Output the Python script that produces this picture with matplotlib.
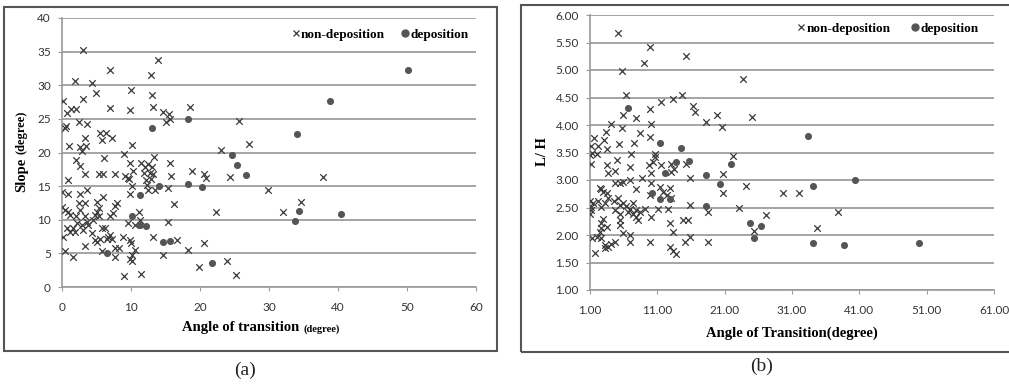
import matplotlib
matplotlib.use("Agg")
import matplotlib.pyplot as plt
from matplotlib.patches import Rectangle
from matplotlib.lines import Line2D
from matplotlib.ticker import FormatStrFormatter

# (a) angle of transition vs slope
a_nondep_x = [0.1, 0.7, 1.9, 1.3, 2.0, 0.5, 0.6, 1.0, 3.1, 3.1, 2.5, 3.6, 4.4, 4.9, 7.0, 7.0,
              2.6, 2.9, 3.3, 3.5, 2.1, 2.6, 3.3, 5.5, 5.8, 6.4, 7.2, 6.1, 5.4, 5.9, 7.7, 10.0,
              9.8, 10.1, 9.0, 9.9, 9.1, 9.7, 10.3, 12.9, 13.9, 13.1, 13.2, 14.7, 15.5, 15.1, 15.7,
              18.5, 13.3, 11.5, 12.0, 12.5, 13.0, 11.9, 12.7, 13.2, 12.2, 12.9, 15.7, 15.8, 15.4,
              18.9, 20.6, 20.9, 23.1, 24.3, 25.6, 27.1, 37.8, 29.8, 34.6, 32.1, 25.2,
              0.0, 0.9, 0.9, 0.0, 0.4, 0.9, 1.2, 0.1, 0.7, 1.2, 1.6, 0.4, 1.6, 2.6, 2.4, 3.3,
              2.6, 2.1, 3.3, 3.6, 2.2, 2.9, 3.6, 3.8, 3.1, 1.9, 3.3, 5.0, 5.3, 5.0, 4.8, 5.3,
              4.5, 4.3, 4.8, 5.0, 5.5, 6.0, 5.8, 6.2, 5.8, 6.5, 6.7, 7.0, 7.4, 7.7, 7.9, 7.2,
              7.0, 7.7, 7.7, 8.2, 8.9, 9.0, 9.6, 9.8, 10.0, 9.9, 10.2, 10.6, 10.1, 10.6, 11.1,
              11.3, 11.4, 9.9, 10.1, 9.6, 12.3, 12.5, 13.5, 13.2, 14.6, 15.3, 16.2, 16.6, 18.3,
              19.8, 20.6, 22.3, 23.9]
a_nondep_y = [27.6, 25.9, 30.6, 26.5, 26.5, 23.6, 23.9, 21.0, 35.2, 28.0, 24.5, 24.3, 30.3, 28.8, 32.2, 26.6,
              20.8, 20.2, 22.2, 21.0, 18.9, 18.0, 16.8, 22.9, 21.8, 22.9, 22.1, 19.2, 16.8, 16.8, 16.8, 29.3,
              26.3, 21.1, 19.8, 18.5, 16.5, 16.1, 17.2, 31.5, 33.7, 28.5, 26.8, 26.0, 25.7, 24.5, 25.0,
              26.8, 19.3, 18.4, 17.9, 18.3, 17.9, 16.9, 16.9, 16.8, 15.9, 16.0, 18.5, 16.5, 14.7,
              17.2, 16.8, 16.2, 20.4, 16.4, 24.7, 21.3, 16.4, 14.4, 12.7, 11.1, 1.8,
              14.2, 15.9, 13.9, 11.9, 11.5, 11.2, 10.7, 7.5, 8.7, 8.2, 8.7, 5.3, 4.4, 13.9, 12.5, 12.5,
              11.5, 10.5, 10.5, 14.4, 9.5, 9.2, 9.7, 9.2, 8.5, 8.2, 6.1, 12.7, 11.7, 11.2, 10.7, 10.6,
              10.0, 8.0, 7.0, 6.7, 7.2, 13.4, 8.7, 8.7, 5.3, 7.2, 7.5, 10.5, 11.0, 12.0, 12.5, 7.2,
              7.7, 5.8, 4.5, 5.8, 7.5, 1.6, 9.5, 7.0, 6.5, 4.1, 4.8, 5.5, 3.8, 9.2, 11.2,
              10.0, 2.0, 13.9, 15.0, 16.2, 15.2, 14.4, 14.4, 7.5, 4.8, 9.7, 12.3, 7.0, 5.5,
              2.9, 6.6, 11.2, 3.8]
a_dep_x = [13.0, 18.3, 24.7, 25.4, 26.6, 50.1, 38.8, 34.1, 34.3, 33.7, 40.4, 11.3, 14.0, 18.2,
           20.3, 6.5, 10.2, 11.3, 12.2, 14.6, 15.7, 21.8]
a_dep_y = [23.6, 25.0, 19.6, 18.1, 16.7, 32.2, 27.6, 22.7, 11.3, 9.8, 10.8, 13.7, 15.0, 15.3,
           14.8, 5.1, 10.6, 9.2, 9.0, 6.7, 6.9, 3.6]

# (b) angle of transition vs L/H
b_nondep_x = [5.1, 9.9, 5.7, 9.0, 15.3, 23.7, 25.0, 6.4, 14.6, 13.3, 11.5, 9.9, 16.3, 16.6, 19.8,
              18.3, 20.6, 5.9, 7.9, 4.1, 5.7, 10.1, 3.4, 8.4, 9.9, 1.6, 3.1, 1.1, 2.2, 5.3, 7.6,
              3.5, 1.3, 2.0, 7.1, 10.7, 1.1, 3.5, 5.0, 3.7, 4.7, 6.9, 9.7, 10.4, 11.6, 13.0, 10.1,
              13.1, 15.3, 15.8, 8.7, 5.4, 10.1, 20.8, 22.2, 24.2, 20.8, 6.9, 7.9, 2.7, 3.5, 4.7,
              29.6, 32.1, 23.2, 27.2, 37.8, 25.4, 34.7, 1.0, 10.6, 13.5, 5.9, 11.9, 12.4, 12.9,
              13.1, 9.9, 11.4, 2.5, 3.0,
              1.0, 1.1, 1.5, 2.2, 1.0, 2.7, 3.2, 3.7, 4.5, 5.2, 5.4, 5.9, 6.4, 7.4, 6.9, 7.9,
              8.4, 5.4, 7.4, 7.9, 8.2, 5.4, 3.0, 2.7, 10.1, 11.1, 12.6, 15.8, 18.5, 12.9, 13.3,
              14.8, 15.5, 15.1, 15.8, 12.9, 13.3, 13.8, 18.5, 9.9, 5.4, 5.9, 6.9, 6.9, 1.3, 2.0,
              2.5, 2.7, 2.7, 1.7, 3.2, 3.2, 3.7, 4.1, 4.7, 4.7, 9.1, 6.7, 3.5, 1.2]
b_nondep_y = [5.68, 5.42, 4.98, 5.13, 5.25, 4.84, 4.15, 4.55, 4.55, 4.47, 4.42, 4.29, 4.35, 4.24, 4.18,
              4.06, 3.96, 4.19, 4.12, 4.02, 3.94, 4.02, 3.88, 3.86, 3.79, 3.76, 3.73, 3.61, 3.61, 3.65, 3.68,
              3.56, 3.49, 3.47, 3.47, 3.47, 3.30, 3.27, 3.36, 3.12, 3.17, 3.24, 3.27, 3.33, 3.27, 3.30, 3.12,
              3.15, 3.30, 3.04, 3.04, 2.95, 2.95, 3.11, 3.44, 2.89, 2.76, 3.00, 2.83, 2.83, 2.76, 2.95,
              2.77, 2.77, 2.50, 2.36, 2.42, 2.07, 2.12, 3.45, 3.42, 3.20, 2.97, 2.79, 2.73, 2.85,
              2.67, 2.73, 2.88, 2.85, 2.79,
              2.61, 2.51, 2.58, 2.61, 2.39, 2.51, 2.58, 2.67, 2.61, 2.67, 2.55, 2.58, 2.53, 2.58, 2.48, 2.45,
              2.42, 2.39, 2.39, 2.33, 2.27, 2.27, 2.30, 2.21, 2.33, 2.48, 2.47, 2.55, 2.42, 2.21, 2.06,
              2.27, 2.28, 1.88, 1.97, 1.79, 1.71, 1.65, 1.88, 1.88, 2.18, 2.03, 2.00, 1.88, 1.94, 1.97,
              2.06, 2.12, 1.94, 1.67, 1.82, 1.76, 1.78, 1.84, 1.88, 2.45, 2.48, 2.42, 2.15, 2.45]
b_dep_x = [6.7, 11.4, 14.5, 13.8, 15.7, 12.2, 18.2, 20.3, 21.9, 10.2, 11.4, 12.9, 18.3, 24.8,
           26.4, 25.3, 33.4, 34.1, 40.3, 34.1, 38.7, 49.8]
b_dep_y = [4.31, 3.68, 3.58, 3.33, 3.35, 3.12, 3.10, 2.93, 3.29, 2.76, 2.65, 2.65, 2.53, 2.21,
           2.17, 1.94, 3.80, 2.89, 3.00, 1.86, 1.81, 1.86]

W, H = 1009, 386
fig = plt.figure(figsize=(W / 100, H / 100), dpi=100)

tick_font = "Lato"
lab_font = "Liberation Serif"
xcol = "#3a3a3a"
dcol = "#555555"


def px_axes(x0, y0, x1, y1):
    # pixel box (top-left origin) -> figure axes
    return fig.add_axes([x0 / W, 1 - y1 / H, (x1 - x0) / W, (y1 - y0) / H])


def style(ax):
    ax.set_facecolor("none")
    for s in ["top", "right"]:
        ax.spines[s].set_visible(False)
    for s in ["left", "bottom"]:
        ax.spines[s].set_color("#9a9a9a")
        ax.spines[s].set_linewidth(1.2)
    ax.yaxis.grid(True, color="#a5a5a5", linewidth=1.4)
    ax.set_axisbelow(True)
    ax.tick_params(axis="both", colors="#9a9a9a", labelcolor="#333333", length=3,
                   labelsize=8.5)
    ax.tick_params(axis="y", pad=5)
    ax.tick_params(axis="x", pad=8)
    for t in ax.get_xticklabels() + ax.get_yticklabels():
        t.set_fontfamily(tick_font)


def legend(ax, x, y, gap):
    h = [Line2D([], [], ls="none", marker="x", color=xcol, ms=5, mew=0.9),
         Line2D([], [], ls="none", marker="o", color=dcol, ms=5)]
    ax.legend(h, ["non-deposition", "deposition"], ncol=2, frameon=False,
              loc="center", bbox_to_anchor=(x / W, 1 - y / H), bbox_transform=fig.transFigure,
              handlelength=0.6, handletextpad=0.1, columnspacing=gap,
              prop={"family": lab_font, "weight": "bold", "size": 9.5})


# panel (a)
ax1 = px_axes(62, 18, 476, 287)
ax1.scatter(a_nondep_x, a_nondep_y, marker="x", s=22, color=xcol, linewidths=0.9, zorder=3)
ax1.scatter(a_dep_x, a_dep_y, marker="o", s=26, color=dcol, linewidths=0, zorder=3)
ax1.set_xlim(0, 60)
ax1.set_ylim(0, 40)
ax1.set_xticks(range(0, 61, 10))
ax1.set_yticks(range(0, 41, 5))
style(ax1)
legend(ax1, 380, 35, 1.2)

# panel (b)
ax2 = px_axes(590, 15, 994, 290)
ax2.scatter(b_nondep_x, b_nondep_y, marker="x", s=22, color=xcol, linewidths=0.9, zorder=3)
ax2.scatter(b_dep_x, b_dep_y, marker="o", s=26, color=dcol, linewidths=0, zorder=3)
ax2.set_xlim(1, 61)
ax2.set_ylim(1, 6)
ax2.set_xticks(range(1, 62, 10))
ax2.set_yticks([1 + 0.5 * i for i in range(11)])
ax2.xaxis.set_major_formatter(FormatStrFormatter("%.2f"))
ax2.yaxis.set_major_formatter(FormatStrFormatter("%.2f"))
style(ax2)
legend(ax2, 888, 29, 1.6)

# axis titles
fig.text(22 / W, 1 - 192 / H, "Slope", rotation=90, ha="center", va="bottom",
         family=lab_font, weight="bold", size=10.5)
fig.text(22 / W, 1 - 154 / H, "(degree)", rotation=90, ha="center", va="bottom",
         family=lab_font, weight="bold", size=9)
fig.text(303 / W, 1 - 328 / H, "Angle of transition ", ha="right", va="center",
         family=lab_font, weight="bold", size=10.5)
fig.text(303 / W, 1 - 329 / H, "(degree)", ha="left", va="center",
         family=lab_font, weight="bold", size=7.5)
fig.text(542 / W, 1 - 152 / H, "L/ H", rotation=90, ha="center", va="center",
         family=lab_font, weight="bold", size=10.5)
fig.text(792 / W, 1 - 333 / H, "Angle of Transition(degree)", ha="center", va="center",
         family=lab_font, weight="bold", size=10.5)

# frames and panel tags
fig.patches.append(Rectangle((4 / W, 1 - 351 / H), 493 / W, 344 / H, transform=fig.transFigure,
                             fill=False, edgecolor="#555555", linewidth=1.5))
fig.patches.append(Rectangle((521 / W, 1 - 352 / H), 500 / W, 347 / H, transform=fig.transFigure,
                             fill=False, edgecolor="#555555", linewidth=1.5))
fig.text(245 / W, 1 - 370 / H, "(a)", ha="center", va="center", family=lab_font, size=14,
         color="#222222")
fig.text(762 / W, 1 - 366 / H, "(b)", ha="center", va="center", family=lab_font, size=14,
         color="#222222")

fig.savefig("out.png", dpi=100)
